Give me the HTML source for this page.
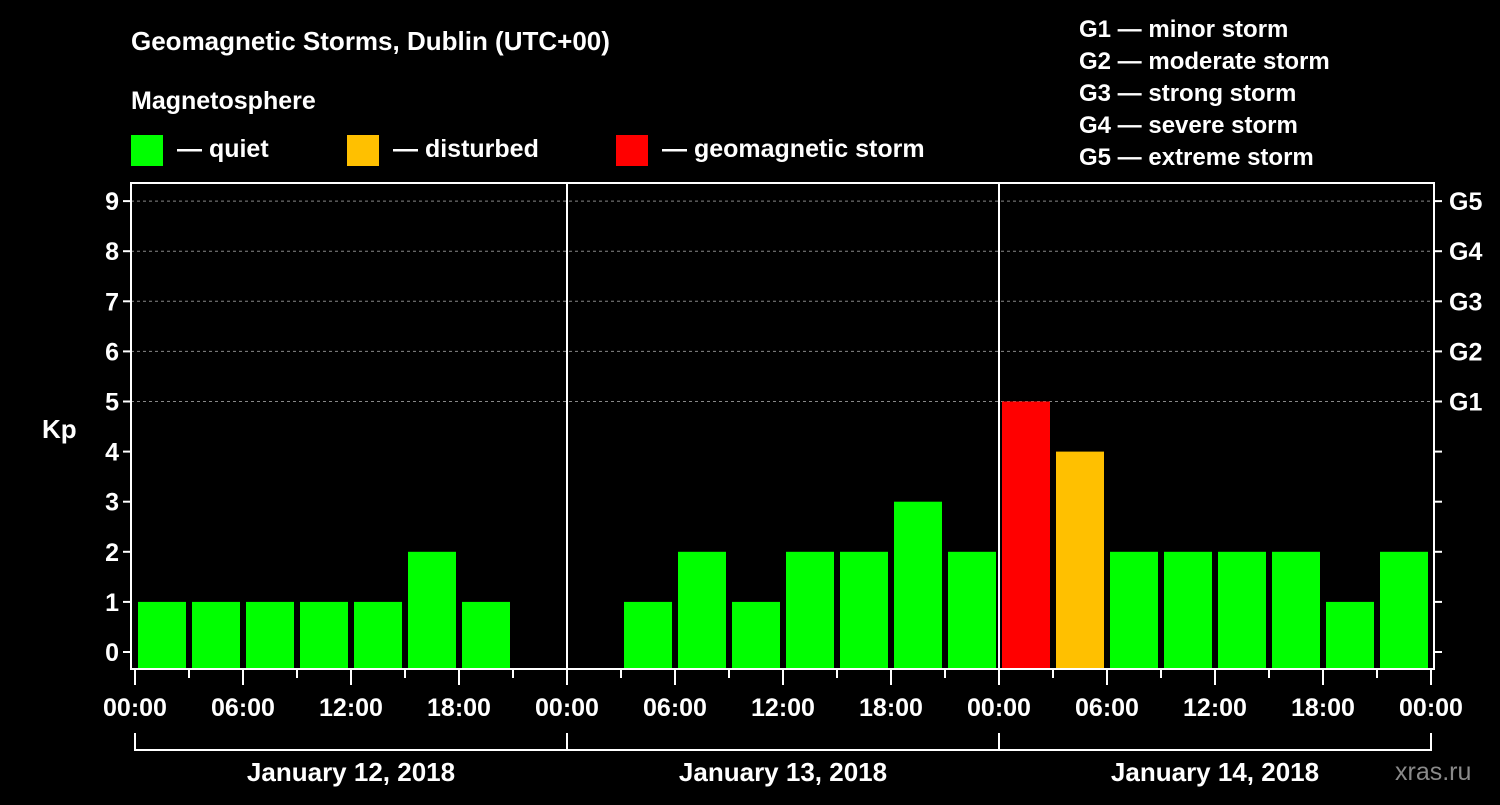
<!DOCTYPE html>
<html><head><meta charset="utf-8"><style>
body{margin:0;background:#000;width:1500px;height:800px;overflow:hidden}
svg text{font-family:"Liberation Sans",sans-serif;font-weight:bold;fill:#fff}
</style></head><body>
<svg id="c" width="1500" height="800">
<text x="131" y="50" font-size="26">Geomagnetic Storms, Dublin (UTC+00)</text>
<text x="131" y="109" font-size="25">Magnetosphere</text>
<rect x="131" y="135" width="32" height="31" fill="#00ff00"/>
<text x="177" y="157" font-size="25">— quiet</text>
<rect x="347" y="135" width="32" height="31" fill="#ffc000"/>
<text x="393" y="157" font-size="25">— disturbed</text>
<rect x="616" y="135" width="32" height="31" fill="#ff0000"/>
<text x="662" y="157" font-size="25">— geomagnetic storm</text>
<g font-size="24">
<text x="1079" y="37">G1 — minor storm</text>
<text x="1079" y="69">G2 — moderate storm</text>
<text x="1079" y="101">G3 — strong storm</text>
<text x="1079" y="133">G4 — severe storm</text>
<text x="1079" y="165">G5 — extreme storm</text>
</g>
<text x="42" y="438" font-size="26">Kp</text>
<text x="1395" y="780" font-size="25" fill="#888" style="fill:#8a8a8a;font-weight:normal">xras.ru</text>
<g id="plot"></g>
</svg>
<script>
const kpValues=[1,1,1,1,1,2,1,null, null,1,2,1,2,2,3,2, 5,4,2,2,2,2,1,2];
const yTicks=[0,1,2,3,4,5,6,7,8,9];
const gLabels={5:"G1",6:"G2",7:"G3",8:"G4",9:"G5"};
const xTickLabels=["00:00","06:00","12:00","18:00","00:00","06:00","12:00","18:00","00:00","06:00","12:00","18:00","00:00"];
const dayLabels=["January 12, 2018","January 13, 2018","January 14, 2018"];
const NS="http://www.w3.org/2000/svg";
const g=document.getElementById('plot');
const X0=135,HOUR=18,L=131,R=1434,T=183,B=669;
const xs=h=>X0+h*HOUR;
const ys=v=>652-v*50.1;
function mk(t,a){const e=document.createElementNS(NS,t);for(const k in a)e.setAttribute(k,a[k]);g.appendChild(e);return e;}
// gridlines
yTicks.forEach(v=>{if(v>=5){const l=mk('line',{x1:L,x2:R,y1:ys(v),y2:ys(v),stroke:'#888','stroke-dasharray':'3,3','stroke-width':1});

}});
// bars
kpValues.forEach((v,i)=>{if(v==null||v<=0)return;
const c=v>=5?'#ff0000':(v>=4?'#ffc000':'#00ff00');
const r=mk('rect',{x:xs(i*3)+3,y:ys(v),width:48,height:B-ys(v),fill:c});

});
// day separators
[1,2].forEach(d=>{const l=mk('line',{x1:xs(d*24),x2:xs(d*24),y1:T,y2:B,stroke:'#fff','stroke-width':2});

});
// frame
const f=mk('rect',{x:L,y:T,width:R-L,height:B-T,fill:'none',stroke:'#fff','stroke-width':2});


// y ticks
yTicks.forEach(v=>{const y=ys(v);
mk('line',{x1:L-8,x2:L,y1:y,y2:y,stroke:'#fff','stroke-width':2});
mk('line',{x1:R,x2:R+8,y1:y,y2:y,stroke:'#fff','stroke-width':2});
const t=mk('text',{x:L-12,y:y+9,'text-anchor':'end','font-size':25});t.textContent=v;


if(gLabels[v]){const s=mk('text',{x:R+15,y:y+9,'font-size':25});s.textContent=gLabels[v];

}});
// x ticks
for(let h=0;h<=72;h+=3){const maj=h%6===0;mk('line',{x1:xs(h),x2:xs(h),y1:B,y2:B+(maj?16:9),stroke:'#fff','stroke-width':2});}
xTickLabels.forEach((s,i)=>{const t=mk('text',{x:xs(i*6),y:716,'text-anchor':'middle','font-size':25});t.textContent=s;

});
// day brackets
dayLabels.forEach((s,d)=>{const a=xs(d*24),b=xs(d*24+24);
mk('path',{d:`M${a},733V750H${b}V733`,fill:'none',stroke:'#fff','stroke-width':2});
const t=mk('text',{x:(a+b)/2,y:781,'text-anchor':'middle','font-size':26});t.textContent=s;

});
</script>
</body></html>
